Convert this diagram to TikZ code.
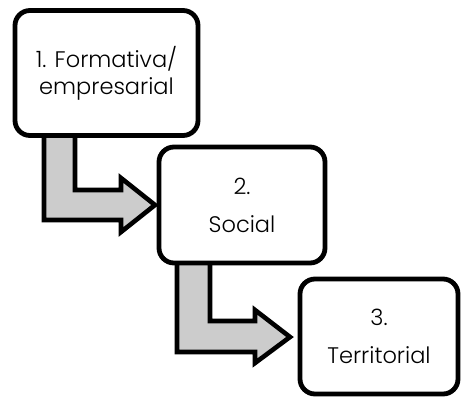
\documentclass[tikz,border=0pt]{standalone}
\usepackage{fontspec}
\setmainfont{Poppins Light}
\begin{document}
\begin{tikzpicture}[x=1pt,y=-1pt,
  box/.style={draw=black, line width=4.8pt, rounded corners=15pt, fill=white, inner sep=0pt, align=center, font=\fontsize{22.5}{27}\selectfont},
  bent/.style={draw=black, line width=4.6pt, fill=gray!40, line join=miter}]
\useasboundingbox (0,0) rectangle (462,396);
% arrows (behind)
\draw[bent] (44,128) -- (44,220) -- (121,220) -- (121,232) -- (155,205) -- (121,178) -- (121,190) -- (75,190) -- (75,128) -- cycle;
\draw[bent] (177,255) -- (177,352) -- (255,352) -- (255,363) -- (290,337) -- (255,310) -- (255,321) -- (210,321) -- (210,255) -- cycle;
% boxes
\node[box, minimum width=183pt, minimum height=125pt] (b1) at (106.5,73) {1. Formativa/\\empresarial};
\node[box, minimum width=166pt, minimum height=116pt, font=\fontsize{22.5}{38}\selectfont] (b2) at (242,205) {2.\\Social};
\node[box, minimum width=158pt, minimum height=115pt, font=\fontsize{22.5}{38}\selectfont] (b3) at (379,336.5) {3.\\Territorial};
\end{tikzpicture}
\end{document}
